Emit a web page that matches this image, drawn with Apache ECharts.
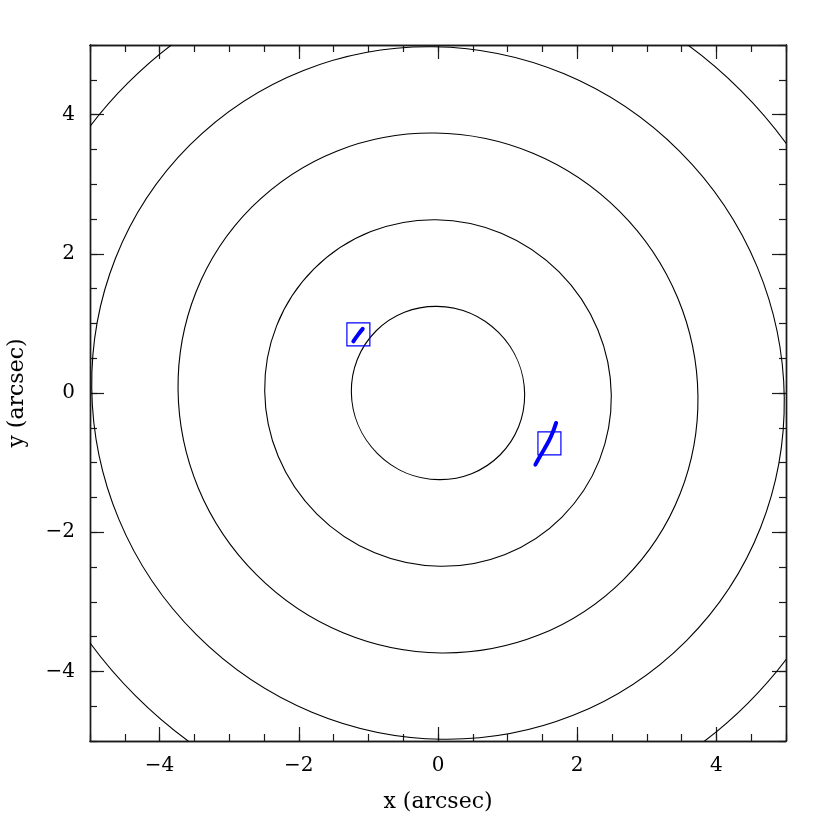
<!DOCTYPE html>
<html>
<head>
<meta charset="utf-8">
<script src="https://cdn.jsdelivr.net/npm/echarts@6/dist/echarts.min.js"></script>
<style>
  html, body { margin: 0; padding: 0; background: #fff; }
  #lensChart { width: 830px; height: 830px; }
</style>
</head>
<body>
<div id="lensChart"></div>
<script>
// tick positions (arcsec)
const majorTicks = [-4, -2, 0, 2, 4]
const minorTicks = [-5, -4.5, -4, -3.5, -3, -2.5, -2, -1.5, -1, -0.5, 0, 0.5, 1, 1.5, 2, 2.5, 3, 3.5, 4, 4.5, 5]

// contours: centre and semi-axes (long one runs NW-SE)
const contourX = [0, 0, 0, 0, 0]
const contourY = [0, 0, 0, 0, 0]
const contourLong = [1.26, 2.52, 3.78, 5.04, 6.30]
const contourShort = [1.23, 2.46, 3.69, 4.91, 6.15]

// image boxes: centre x, centre y, side
const boxX = [-1.144, 1.601]
const boxY = [0.843, -0.724]
const boxSide = [0.33, 0.33]

// lensed arcs
const arc1X = [-1.216, -1.15, -1.082]
const arc1Y = [0.743, 0.835, 0.921]
const arc2X = [1.399, 1.46, 1.529, 1.625, 1.697]
const arc2Y = [-1.029, -0.92, -0.803, -0.622, -0.430]

const serif = 'DejaVu Serif'
const frameColor = '#1a1a1a'

function minusSign(v) {
  return String(v).replace('-', '\u2212')
}

function makeAxis(position, isX, major) {
  return {
    type: 'value',
    position: position,
    min: -5,
    max: 5,
    name: major && (position === 'bottom' || position === 'left') ? (isX ? 'x (arcsec)' : 'y (arcsec)') : '',
    nameLocation: 'middle',
    nameGap: isX ? 50 : 62,
    nameRotate: isX ? 0 : 90,
    nameTextStyle: { fontFamily: serif, fontSize: 22, color: '#000' },
    axisLine: { show: true, onZero: false, lineStyle: { color: frameColor, width: 1.4 } },
    axisTick: {
      show: true,
      inside: true,
      length: major ? 14 : 7,
      customValues: major ? majorTicks : minorTicks,
      lineStyle: { color: frameColor, width: 1.2 }
    },
    axisLabel: {
      show: major && (position === 'bottom' || position === 'left'),
      customValues: majorTicks,
      margin: 15,
      fontFamily: serif,
      fontSize: 20,
      color: '#000',
      formatter: minusSign
    },
    splitLine: { show: false }
  }
}

function renderContour(params, api) {
  const c = api.coord([api.value(0), api.value(1)])
  const s = api.size([api.value(2), api.value(3)])
  return {
    type: 'group',
    x: c[0],
    y: c[1],
    rotation: -Math.PI / 4,
    children: [{
      type: 'ellipse',
      shape: { cx: 0, cy: 0, rx: s[0], ry: s[1] },
      style: { fill: 'none', stroke: '#000', lineWidth: 1.1 }
    }]
  }
}

function renderBox(params, api) {
  const c = api.coord([api.value(0), api.value(1)])
  const s = api.size([api.value(2), api.value(2)])
  return {
    type: 'rect',
    shape: { x: c[0] - s[0] / 2, y: c[1] - s[1] / 2, width: s[0], height: s[1] },
    style: { fill: 'none', stroke: '#0000ff', lineWidth: 1.2 }
  }
}

const chart = echarts.init(document.getElementById('lensChart'))
chart.setOption({
  animation: false,
  backgroundColor: '#fff',
  grid: {
    left: 90,
    top: 45,
    width: 696,
    height: 696,
    containLabel: false,
    outerBoundsMode: 'none'
  },
  xAxis: [
    makeAxis('bottom', true, true),
    makeAxis('bottom', true, false),
    makeAxis('top', true, true),
    makeAxis('top', true, false)
  ],
  yAxis: [
    makeAxis('left', false, true),
    makeAxis('left', false, false),
    makeAxis('right', false, true),
    makeAxis('right', false, false)
  ],
  series: [
    {
      type: 'custom',
      clip: true,
      renderItem: renderContour,
      data: contourX.map((x, i) => [x, contourY[i], contourLong[i], contourShort[i]])
    },
    {
      type: 'custom',
      clip: true,
      renderItem: renderBox,
      data: boxX.map((x, i) => [x, boxY[i], boxSide[i]])
    },
    {
      type: 'line',
      showSymbol: false,
      smooth: true,
      lineStyle: { color: '#0000ff', width: 4, cap: 'round' },
      data: arc1X.map((x, i) => [x, arc1Y[i]])
    },
    {
      type: 'line',
      showSymbol: false,
      smooth: true,
      lineStyle: { color: '#0000ff', width: 4, cap: 'round' },
      data: arc2X.map((x, i) => [x, arc2Y[i]])
    }
  ]
})
</script>
</body>
</html>
